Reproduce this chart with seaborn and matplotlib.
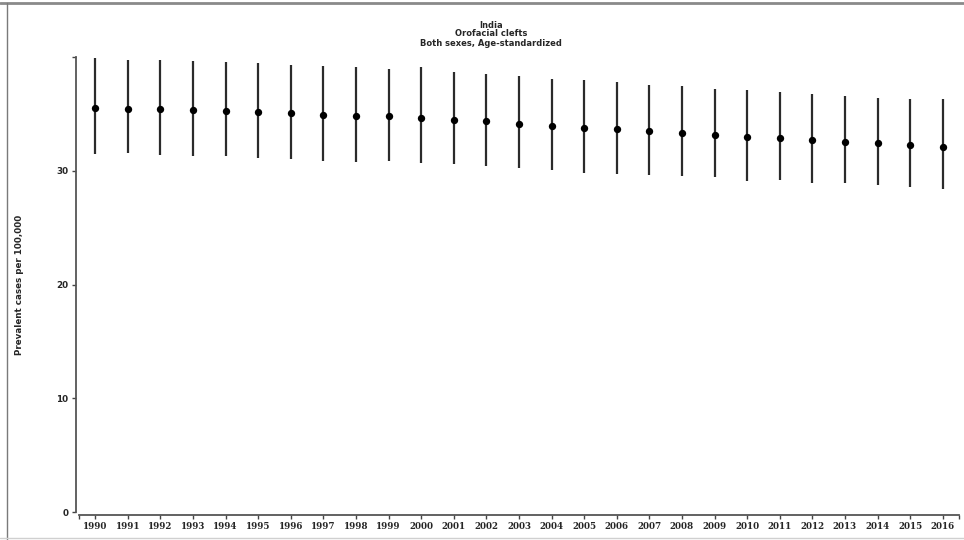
import matplotlib
matplotlib.use("Agg")
import matplotlib.pyplot as plt
from matplotlib.lines import Line2D
import seaborn as sns
import pandas as pd
import numpy as np

years = list(range(1990, 2017))
mean_rate = [35.55, 35.47, 35.41, 35.32, 35.24, 35.15, 35.06, 34.94, 34.85, 34.77,
             34.68, 34.47, 34.33, 34.15, 33.95, 33.77, 33.63, 33.48, 33.33, 33.18,
             33.01, 32.84, 32.69, 32.54, 32.40, 32.28, 32.13]
upper_rate = [39.89, 39.74, 39.74, 39.62, 39.59, 39.44, 39.33, 39.21, 39.09, 38.98,
              39.12, 38.65, 38.54, 38.33, 38.04, 37.95, 37.84, 37.57, 37.42, 37.22,
              37.14, 36.96, 36.75, 36.58, 36.43, 36.29, 36.29]
lower_rate = [31.46, 31.55, 31.40, 31.29, 31.26, 31.14, 31.05, 30.90, 30.79, 30.85,
              30.67, 30.55, 30.41, 30.23, 30.09, 29.82, 29.71, 29.65, 29.56, 29.42,
              29.10, 29.15, 28.95, 28.89, 28.71, 28.57, 28.42]
y_ticks = [0, 10, 20, 30]
title_lines = ["India", "Orofacial clefts", "Both sexes, Age-standardized"]
y_label = "Prevalent cases per 100,000"

df = pd.DataFrame({"year": years, "pos": np.arange(len(years)),
                   "mean": mean_rate, "lower": lower_rate, "upper": upper_rate})

sns.set_style("white")
plt.rcParams["font.family"] = ["DejaVu Sans"]

fig = plt.figure(figsize=(9.64, 5.40), dpi=100)
ax = fig.add_axes([79 / 964, 28 / 540, 880 / 964, 455 / 540])

# uncertainty intervals
ax.vlines(df["pos"], df["lower"], df["upper"], color="#2b2b2b", linewidth=1.6, zorder=2)
# point estimates
sns.scatterplot(data=df, x="pos", y="mean", ax=ax, color="black", s=28,
                edgecolor="black", linewidth=0, zorder=3, legend=False)

ax.set_xlim(-0.5, len(years) - 0.5)
ax.set_ylim(0, 40)

# spines first: moving a spine rebuilds the ticks
for side in ("top", "right"):
    ax.spines[side].set_visible(False)
for side in ("left", "bottom"):
    ax.spines[side].set_color("#555555")
    ax.spines[side].set_linewidth(1.3)
    ax.spines[side].set_position(("outward", 2.3))

ax.tick_params(axis="both", which="both", direction="out", length=3.2, width=1.0,
               color="#444444", pad=2, bottom=True, left=True, labelsize=6.3)

ax.set_xticks(df["pos"])
ax.set_xticks([-0.5, len(years) - 0.5], minor=True)
ax.set_yticks(y_ticks + [40])
ax.set_xticklabels([str(y) for y in years])
ax.set_yticklabels([str(v) for v in y_ticks] + [""])
for lab in ax.get_xticklabels():
    lab.set_fontweight("bold")
    lab.set_family("DejaVu Serif")
for lab in ax.get_yticklabels():
    lab.set_fontweight("bold")

ax.set_xlabel("")
ax.set_ylabel(y_label, fontsize=6.3, fontweight="bold")
ax.yaxis.set_label_coords((24 - 79) / 880, 0.5)

fig.text(491 / 964, 1 - 25 / 540, title_lines[0], ha="center", va="center",
         fontsize=6.0, fontweight="bold")
fig.text(491 / 964, 1 - 34 / 540, title_lines[1], ha="center", va="center",
         fontsize=6.0, fontweight="bold")
fig.text(491 / 964, 1 - 43 / 540, title_lines[2], ha="center", va="center",
         fontsize=6.0, fontweight="bold")

# surrounding frame of the panel
fig.add_artist(Line2D([0, 1], [1 - 2.5 / 540, 1 - 2.5 / 540], transform=fig.transFigure,
                      color="#8a8a8a", linewidth=2.0))
fig.add_artist(Line2D([7 / 964, 7 / 964], [0, 1 - 2.5 / 540], transform=fig.transFigure,
                      color="#7a7a7a", linewidth=1.0))
fig.add_artist(Line2D([0, 1], [2.5 / 540, 2.5 / 540], transform=fig.transFigure,
                      color="#d0d0d0", linewidth=1.0))

fig.savefig("out.png", dpi=100)
